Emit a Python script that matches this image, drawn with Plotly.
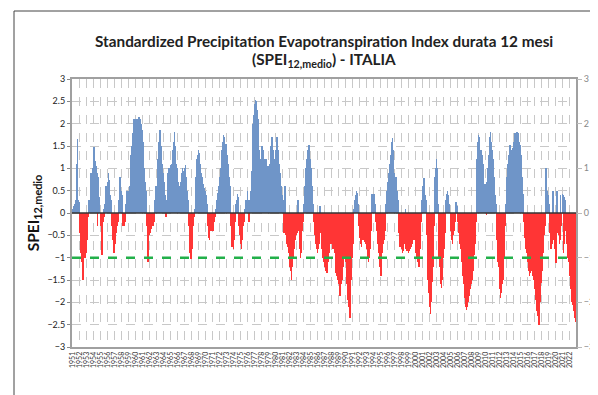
import plotly.graph_objects as go

# ---- data: monthly SPEI-12 (Italy mean) ----
years = list(range(1951, 2023))
year_labels = [str(y) for y in years]

spei_1951_1960 = [
    0.05, 0.1, 0.05, 0.15, 0.1, 0.2, 0.3, 0.5, 1.1, 1.65, 0.3, 0.25,
    0.25, -0.45, -0.6, -0.9, -1.0, -1.1, -1.5, -1.05, -1.0, -0.95, -1.0, -0.9,
    -0.9, -0.6, -0.3, -0.1, 0.1, 0.3, 0.25, 0.5, 0.9, 0.55, 0.8, 1.0,
    1.2, 1.48, 1.3, 1.0, 1.17, 1.05, 0.9, -0.3, 0.8, 0.5, 0.35, 0.3,
    -0.2, -0.3, -0.6, -0.95, -0.4, -0.2, 0.1, -0.1, 0.2, 0.4, 0.6, 0.5,
    0.6, 0.7, 0.89, 0.75, 0.5, 0.4, 0.3, 0.1, -0.3, -0.5, -0.6, -0.9,
    -0.9, -0.7, -0.5, -0.3, -0.45, -0.3, -0.2, -0.1, 0.3, 0.6, 0.8, 0.4,
    0.5, 0.3, 0.4, -0.3, -0.2, -0.3, -0.1, -0.2, 0.2, 0.3, 0.5, 0.4,
    0.5, 0.45, 0.43, 0.6, 0.9, 1.3, 1.5, 1.7, 1.8, 2.0, 2.1, 2.0,
    2.05, 2.1, 1.95, 2.0, 2.1, 2.05, 2.15, 2.1, 2.0, 2.1, 2.0, 1.9,
]
spei_1961_1970 = [
    1.85, 1.6, 1.1, 1.0, 0.95, 0.7, 0.5, 0.2, -0.3, -0.6, -1.1, -0.6,
    -0.5, -0.4, -0.45, -0.3, -0.35, -0.2, -0.3, -0.2, -0.1, -0.2, 0.3, 0.6,
    0.5, 0.6, 0.8, 1.2, 1.4, 1.6, 1.86, 1.7, 1.5, 1.3, 1.1, 0.9,
    0.9, 0.7, 0.5, 0.4, 0.2, -0.1, 0.3, 0.7, 0.9, 1.0, 0.8, 1.0,
    1.07, 0.9, 1.0, 1.1, 1.2, 1.4, 1.6, 1.82, 1.5, 1.2, 1.1, 1.0,
    1.0, 0.7, 0.6, 0.5, 0.45, 0.6, 0.7, 0.8, 0.9, 1.0, 0.95, 0.9,
    0.9, 1.0, 1.07, 0.8, 0.6, 0.5, 0.3, 0.1, -0.3, -0.6, -0.9, -1.02,
    -1.02, -0.8, -0.55, -0.3, -0.2, -0.1, 0.1, 0.4, 0.8, 1.0, 1.2, 1.3,
    1.41, 1.35, 1.2, 1.1, 1.0, 0.9, 0.8, 0.7, 0.65, 0.6, 0.55, 0.5,
    0.5, 0.4, 0.3, 0.2, 0.1, -0.3, -0.55, -0.6, -0.3, -0.2, -0.4, -0.3,
]
spei_1971_1980 = [
    -0.3, -0.4, -0.3, -0.2, -0.1, -0.1, 0.1, 0.2, 0.3, 0.4, 0.45, 0.6,
    0.7, 0.8, 0.9, 1.0, 1.2, 1.4, 1.6, 1.74, 1.7, 1.6, 1.55, 1.5,
    1.54, 1.3, 1.2, 1.1, 0.9, 0.8, 0.6, 0.5, -0.3, -0.7, -0.75, -0.4,
    -0.8, -0.6, -0.3, -0.2, 0.1, 0.2, 0.3, 0.43, 0.35, 0.2, -0.3, -0.5,
    -0.65, -0.7, -0.8, -0.6, -0.4, -0.3, -0.2, -0.1, 0.1, 0.2, 0.3, 0.2,
    0.5, 0.3, -0.2, -0.15, -0.2, 0.3, 0.5, 0.8, 0.95, 1.5, 2.0, 2.2,
    2.45, 2.3, 2.53, 2.5, 2.4, 2.3, 2.1, 1.8, 1.4, 1.0, 0.95, 1.2,
    1.3, 1.5, 1.45, 1.4, 1.3, 1.2, 1.1, 1.15, 1.2, 1.1, 1.0, 1.05,
    1.05, 1.0, 1.1, 1.05, 1.3, 1.5, 1.7, 1.6, 1.4, 1.3, 1.2, 1.1,
    1.2, 1.4, 1.5, 1.7, 1.6, 1.4, 1.1, 1.0, 0.9, 0.75, 0.6, 0.5,
]
spei_1981_1990 = [
    0.4, 0.3, -0.2, -0.45, -0.4, 0.6, -0.5, -0.6, -0.7, -0.75, -0.7, -0.9,
    -1.0, -1.2, -1.1, -1.3, -1.5, -1.2, -1.0, -0.9, -0.8, -0.7, -0.6, -0.5,
    -0.5, -0.45, 0.3, 0.2, 0.3, -0.4, -0.8, -1.0, -0.9, -0.6, -0.4, -0.3,
    -0.2, 0.2, 0.4, 0.6, 0.8, 1.0, 1.2, 1.3, 1.4, 1.45, 1.52, 1.3,
    1.2, 1.0, 0.8, 0.6, 0.4, 0.2, -0.2, -0.45, -0.5, -0.6, -0.7, -0.8,
    -0.9, -0.8, -0.6, -0.7, -0.5, 0.15, -0.45, -0.6, -0.8, -1.0, -0.9, -1.1,
    -1.2, -1.1, -1.2, -1.3, -1.2, -1.35, -1.1, -1.0, -0.9, -0.8, -0.7, -0.6,
    -0.6, -0.7, -0.8, -0.75, -0.7, -0.8, -0.9, -1.1, -1.35, -1.3, -1.4, -1.5,
    -1.55, -1.6, -1.7, -1.85, -1.8, -1.6, -1.5, -1.3, -1.2, -1.1, -1.0, -0.95,
    -0.95, -1.1, -1.42, -1.6, -1.8, -1.95, -2.1, -2.2, -2.35, -2.0, -1.5, -1.2,
]
spei_1991_2000 = [
    -1.0, -0.7, -0.15, 0.1, 0.2, 0.3, 0.4, 0.5, 0.45, 0.3, 0.2, -0.3,
    -0.5, -0.55, -0.6, -0.7, -0.75, -0.6, -0.55, -0.6, -0.5, -0.6, -0.65, -0.7,
    -0.7, -0.8, -0.9, -1.0, -1.1, -1.0, -0.8, -0.6, -0.4, 0.2, 0.43, 0.3,
    0.4, 0.43, 0.3, 0.2, 0.1, -0.2, -0.4, -0.6, -0.7, -0.8, -0.9, -1.2,
    -1.3, -1.42, -1.1, -0.9, -0.8, -0.7, -0.6, -0.5, -0.4, -0.3, 0.2, 0.5,
    0.6, 0.7, 0.8, 0.9, 1.0, 1.1, 1.3, 1.5, 1.6, 1.67, 1.4, 1.1,
    0.9, 0.8, 0.7, 0.8, 0.75, 0.5, 0.3, -0.1, -0.45, -0.6, -0.75, -0.7,
    -0.75, -0.8, -0.9, -0.85, -0.8, -0.7, -0.6, 0.1, -0.8, -0.85, -0.8, -0.85,
    -0.9, -0.85, -0.7, -0.75, -0.8, -0.75, -0.7, -0.65, -0.6, -0.6, -0.55, -0.6,
    -0.7, -0.9, -0.95, -1.0, -1.05, -1.1, -1.2, -1.1, -0.8, -0.45, -0.2, 0.3,
]
spei_2001_2010 = [
    0.5, 0.6, 0.7, 0.78, 0.6, 0.4, 0.3, 0.1, -0.5, -1.2, -1.5, -1.8,
    -1.9, -2.1, -2.25, -2.0, -1.8, -1.55, -1.2, -0.8, -0.3, 0.3, 0.8, 1.0,
    1.2, 1.0, 0.5, 0.2, -0.6, -1.0, -1.2, -1.4, -1.6, -1.68, -1.5, -1.2,
    -1.0, -0.8, -0.6, -0.45, -0.2, 0.3, 0.43, 0.5, 0.4, 0.3, 0.2, 0.1,
    -0.3, -0.4, -0.5, -0.6, -0.7, -0.5, -0.4, -0.3, -0.2, 0.1, 0.25, 0.2,
    0.15, -0.2, -0.3, -0.45, -0.6, -0.7, -0.8, -0.9, -1.1, -1.3, -1.42, -1.6,
    -1.8, -1.9, -2.0, -2.1, -2.17, -2.1, -2.0, -1.9, -1.85, -1.8, -1.7, -1.6,
    -1.6, -1.5, -1.4, -1.3, -1.1, -0.95, -0.7, -0.45, -0.2, 0.3, 1.2, 1.6,
    1.75, 1.7, 1.6, 1.41, 1.35, 1.4, 1.3, 1.2, 1.1, 0.8, 0.6, 0.65,
    0.6, 0.65, -0.05, 0.7, 0.9, 1.0, 1.3, 1.5, 1.7, 1.82, 1.6, 1.5,
]
spei_2011_2020 = [
    1.4, 1.2, 1.0, 0.8, 0.7, 0.4, 0.2, -0.3, -0.6, -0.9, -1.1, -1.2,
    -1.5, -1.7, -1.9, -1.8, -1.7, -1.6, -1.5, -1.2, -1.0, -0.6, -0.3, 0.2,
    0.5, 0.8, 1.0, 1.1, 1.2, 1.3, 1.52, 1.4, 1.3, 1.35, 1.4, 1.45,
    1.5, 1.6, 1.78, 1.7, 1.75, 1.8, 1.82, 1.75, 1.78, 1.7, 1.6, 1.55,
    1.52, 1.3, 1.0, 0.8, 0.6, 0.43, -0.2, -0.45, -0.55, -0.65, -0.8, -0.9,
    -0.9, -1.1, -1.2, -1.3, -1.42, -1.35, -1.3, -1.27, -1.25, -1.3, -1.4, -1.5,
    -1.6, -1.7, -1.8, -1.95, -2.1, -2.2, -2.3, -2.4, -2.5, -2.3, -2.0, -1.8,
    -1.57, -1.3, -1.1, -0.9, -0.7, -0.5, -0.3, 0.3, 1.0, 0.8, 0.5, 0.3,
    0.4, 0.2, -0.2, -0.45, -0.6, -0.8, -0.7, -0.6, 0.5, 0.4, -0.6, -0.8,
    -0.6, -1.12, -0.9, 0.5, -0.45, -0.3, -0.5, -0.7, -0.6, 0.4, -0.3, -0.2,
]
spei_2021_2022 = [
    0.43, 0.4, -0.9, -0.7, 0.35, 0.3, -0.4, -0.6, -0.7, -0.8, -1.0, -1.1,
    -1.2, -1.4, -1.6, -1.7, -1.85, -2.0, -2.05, -2.1, -2.2, -2.25, -2.35, -2.45,
]
threshold = -1.0

values = (spei_1951_1960 + spei_1961_1970 + spei_1971_1980 + spei_1981_1990
          + spei_1991_2000 + spei_2001_2010 + spei_2011_2020 + spei_2021_2022)
months_x = [years[0] + (i + 0.5) / 12 for i in range(len(values))]

POS = "#6f95c8"
NEG = "#ff3535"
colors = [POS if v >= 0 else NEG for v in values]

fig = go.Figure()
fig.add_trace(go.Bar(x=months_x, y=values, width=1 / 12,
                     marker=dict(color=colors, line=dict(width=0)),
                     showlegend=False, hoverinfo="x+y"))
# dummy trace so the right-hand axis is drawn
fig.add_trace(go.Scatter(x=[years[0]], y=[0], yaxis="y2", mode="markers",
                         marker=dict(opacity=0), showlegend=False, hoverinfo="skip"))

# page has an 8px body margin: figure coords = page coords - 8
OFF = 8
W, H = 598 - OFF, 395 - OFF
L, T = 72 - OFF, 79 - OFF
pw, ph = 504, 268
R = W - L - pw
B = H - T - ph

def px_x(p):  # page x -> paper
    return (p - OFF - L) / pw

def px_y(p):  # page y -> paper
    return (T + ph - (p - OFF)) / ph

fig.update_layout(
    width=W, height=H,
    margin=dict(l=L, r=R, t=T, b=B, autoexpand=False),
    paper_bgcolor="white", plot_bgcolor="white",
    bargap=0,
    font=dict(family="Lato, Liberation Sans, sans-serif", color="#222"),
    xaxis=dict(
        range=[years[0], years[-1] + 1],
        tickmode="array",
        tickvals=[y + 1 / 24 for y in years],
        ticktext=year_labels,
        tickangle=-90,
        tickfont=dict(size=7, color="#333"),
        showgrid=False,
        minor=dict(tickmode="linear", tick0=years[0], dtick=1, showgrid=True,
                   gridcolor="#c8c8c8", griddash="dash", gridwidth=1),
        showline=True, linecolor="#a0a0a0", linewidth=2, mirror=True,
        ticks="", zeroline=False,
    ),
    yaxis=dict(
        range=[-3, 3], dtick=0.5, tick0=0,
        tickfont=dict(size=9, color="#222"),
        showgrid=True, gridcolor="#c8c8c8", griddash="dash", gridwidth=1,
        zeroline=False,
        showline=True, linecolor="#a0a0a0", linewidth=2, mirror=True,
        ticks="outside", ticklen=3, tickcolor="#888",
        title=dict(text="SPEI<sub>12,medio</sub>",
                   font=dict(size=15.5, color="#111", weight="bold"), standoff=4),
    ),
    yaxis2=dict(
        range=[-3, 3], dtick=1, overlaying="y", side="right",
        tickfont=dict(size=9, color="#888"),
        showgrid=False, zeroline=False, showline=False,
        ticks="outside", ticklen=5, tickcolor="#bbb",
    ),
    shapes=[
        dict(type="line", xref="x", yref="y", x0=years[0], x1=years[-1] + 1,
             y0=0, y1=0, line=dict(color="#333", width=1.5), layer="above"),
        dict(type="line", xref="x", yref="y", x0=years[0], x1=years[-1] + 1,
             y0=threshold, y1=threshold,
             line=dict(color="#22b04a", width=2.5, dash="dash"), layer="above"),
        dict(type="rect", xref="paper", yref="paper",
             x0=px_x(14), x1=px_x(620), y0=px_y(420), y1=px_y(11),
             line=dict(color="#444", width=1), fillcolor="rgba(0,0,0,0)",
             layer="below"),
    ],
    annotations=[
        dict(text="Standardized Precipitation Evapotranspiration Index durata 12 mesi",
             xref="paper", yref="paper", x=0.5, y=px_y(41), showarrow=False,
             xanchor="center", yanchor="middle",
             font=dict(size=15.3, color="#222", weight="bold")),
        dict(text="(SPEI<sub>12,medio</sub>) - ITALIA",
             xref="paper", yref="paper", x=0.5, y=px_y(60), showarrow=False,
             xanchor="center", yanchor="middle",
             font=dict(size=15.3, color="#222", weight="bold")),
    ],
)

fig.write_html("out.html")
